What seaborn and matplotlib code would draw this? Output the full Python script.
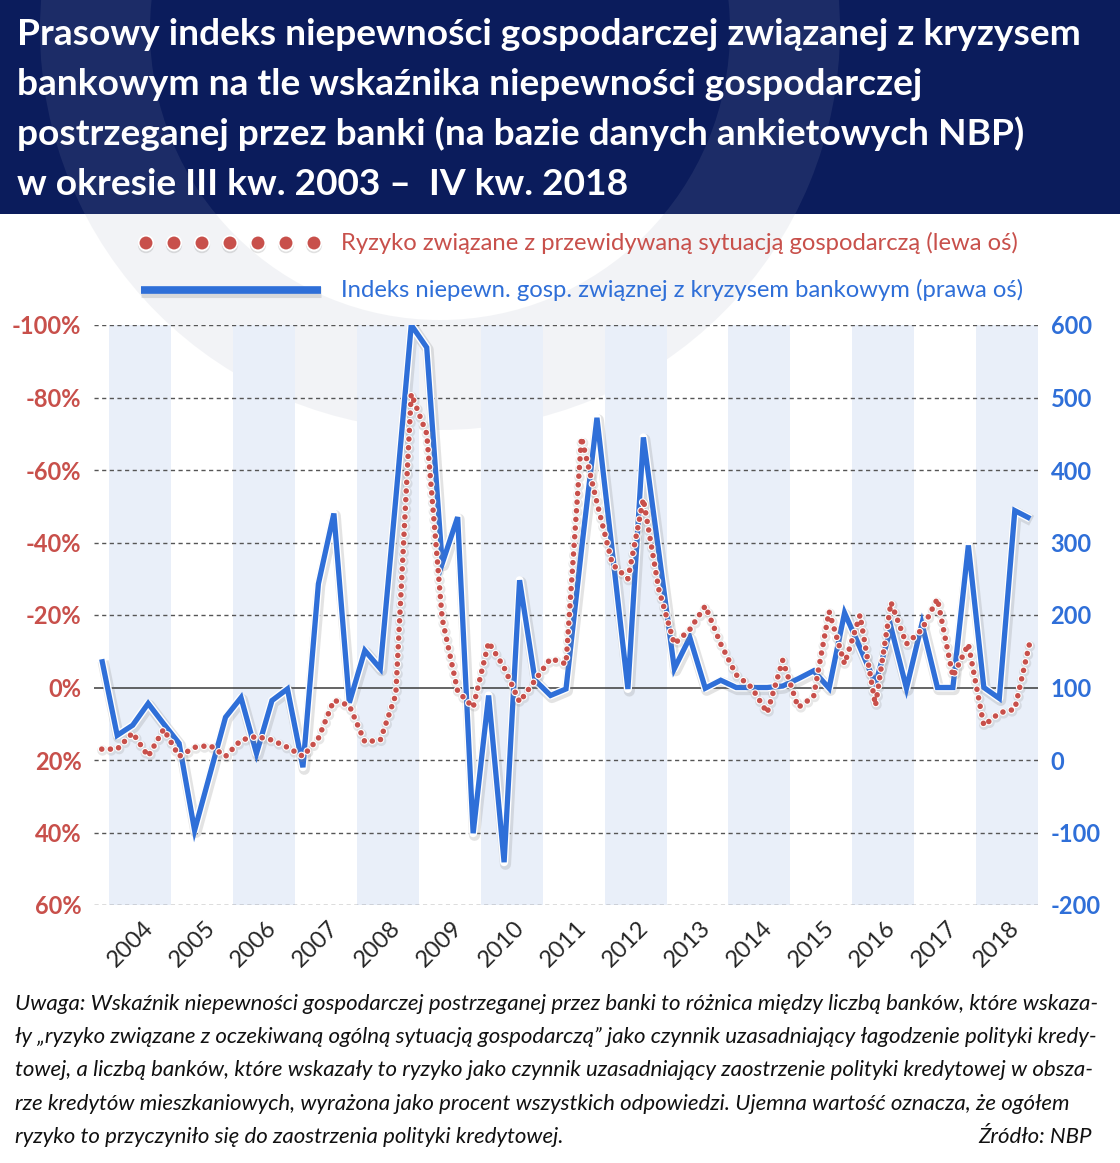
import numpy as np
import pandas as pd
import matplotlib.pyplot as plt
import matplotlib.patheffects as pe
from matplotlib.patches import Rectangle, Wedge
import seaborn as sns


# Quarterly data, IV kw. 2003 - IV kw. 2018 (61 quarters)
years = [2004, 2005, 2006, 2007, 2008, 2009, 2010, 2011,
         2012, 2013, 2014, 2015, 2016, 2017, 2018]

# left axis (%) - risk related to expected economic situation
risk = [17, 17, 12.5, 19, 11.5, 19, 16.5, 16, 19, 14.5,
        13.5, 14.5, 16.5, 19, 14, 3.5, 5, 15, 14.5, 2,
        -81, -70, -19, 1, 5.5, -12.5, -5.5, 4, -2, -8,
        -6.5, -69, -51, -34, -30, -52, -27, -12, -16, -22.5,
        -12, -3.5, 0, 7, -7.5, 5.5, 2.5, -21, -6.5, -20,
        5, -23.5, -12, -16, -24.5, -3, -12, 10.5, 7, 6,
        -13]

# right axis - press uncertainty index (banking crisis)
uncert = [139, 34, 48, 78, 50, 23, -97, -19, 59, 86,
          9, 82, 98, -10, 243, 340, 79, 151, 126, 360,
          600, 569, 271, 335, -101, 89, -141, 248, 110, 89,
          98, 290, 472, 286, 98, 445, 286, 126, 169, 99,
          110, 100, 100, 100, 102, 112, 123, 99, 203, 155,
          105, 183, 99, 188, 100, 100, 296, 100, 85, 344,
          333]

left_ticks = [-100, -80, -60, -40, -20, 0, 20, 40, 60]
right_ticks = [-200, -100, 0, 100, 200, 300, 400, 500, 600]

title_lines = [
    "Prasowy indeks niepewności gospodarczej związanej z kryzysem",
    "bankowym na tle wskaźnika niepewności gospodarczej",
    "postrzeganej przez banki (na bazie danych ankietowych NBP)",
    "w okresie III kw. 2003 –  IV kw. 2018",
]
note_lines = [
    "Uwaga: Wskaźnik niepewności gospodarczej postrzeganej przez banki to różnica między liczbą banków, które wskaza-",
    "ły „ryzyko związane z oczekiwaną ogólną sytuacją gospodarczą” jako czynnik uzasadniający łagodzenie polityki kredy-",
    "towej, a liczbą banków, które wskazały to ryzyko jako czynnik uzasadniający zaostrzenie polityki kredytowej w obsza-",
    "rze kredytów mieszkaniowych, wyrażona jako procent wszystkich odpowiedzi. Ujemna wartość oznacza, że ogółem",
    "ryzyko to przyczyniło się do zaostrzenia polityki kredytowej.",
]
label_red = "Ryzyko związane z przewidywaną sytuacją gospodarczą (lewa oś)"
label_blue = "Indeks niepewn. gosp. związnej z kryzysem bankowym (prawa oś)"

df = pd.DataFrame({"q": np.arange(len(uncert)), "risk": risk, "uncert": uncert})

NAVY = "#0b1c5c"
RED = "#c8504b"
BLUE = "#2f6fd8"
BAND = "#e9eff9"

sns.set_style("white")
plt.rcParams["font.family"] = ["Lato", "DejaVu Sans"]

W, H = 1120, 1163
fig = plt.figure(figsize=(W / 100, H / 100), dpi=100)

# background layer in pixel coordinates
bg = fig.add_axes([0, 0, 1, 1])
bg.set_xlim(0, W)
bg.set_ylim(H, 0)
bg.axis("off")
bg.set_zorder(-5)
bg.add_patch(Rectangle((0, 0), W, 214, color=NAVY, lw=0))
bg.add_patch(Wedge((440, 30), 400, 0, 360, width=110, facecolor="#9aa2b8",
                   alpha=0.12, lw=0))

# plot area
L, R, T, B = 94, 1038, 325, 905
ax = fig.add_axes([L / W, 1 - B / H, (R - L) / W, (B - T) / H])
ax2 = ax.twinx()
ax.set_zorder(ax2.get_zorder() + 1)
ax.patch.set_visible(False)

n = len(uncert)
ax.set_xlim(-0.5, n - 0.5)

# alternating year bands (even years shaded)
for k in range(0, len(years), 2):
    ax2.axvspan(0.5 + 4 * k, 4.5 + 4 * k, color=BAND, lw=0, zorder=0)

ax2.set_ylim(-200, 600)
for v in right_ticks:
    if v == 100:
        ax2.axhline(v, color="#3a3a3a", lw=1.1, zorder=1)
    else:
        ax2.axhline(v, color="#555555", lw=1.0, ls=(0, (3, 2.5)), zorder=1)

ax.set_ylim(60, -100)

# lines
sns.lineplot(data=df, x="q", y="uncert", ax=ax2, color=BLUE, lw=3.8,
             solid_joinstyle="miter", solid_capstyle="butt")
blue_line = ax2.lines[-1]
blue_line.set_zorder(3)
blue_line.set_path_effects([
    pe.SimpleLineShadow(offset=(1, -1.5), shadow_color="#777777", alpha=0.2,
                        linewidth=8, joinstyle="round"),
    pe.Stroke(linewidth=5.8, foreground="white", joinstyle="round"),
    pe.Normal(),
])

sns.lineplot(data=df, x="q", y="risk", ax=ax, color=RED, lw=4.0)
red_line = ax.lines[-1]
red_line.set_linestyle((0, (0.01, 1.55)))
red_line.set_dash_capstyle("round")
red_line.set_zorder(4)
red_line.set_path_effects([
    pe.SimpleLineShadow(offset=(0.5, -1), shadow_color="#888888", alpha=0.2, linewidth=7.5),
    pe.Stroke(linewidth=5.6, foreground="white"),
    pe.Normal(),
])

for a in (ax, ax2):
    for s in a.spines.values():
        s.set_visible(False)
    a.set_xlabel("")
    a.set_ylabel("")

# y ticks
ax.set_yticks(left_ticks)
ax.set_yticklabels([f"{v}%" for v in left_ticks], color=RED, fontsize=17, fontweight="bold")
ax.tick_params(axis="y", length=0, pad=9)
ax2.set_yticks(right_ticks)
ax2.set_yticklabels([str(v) for v in right_ticks], color=BLUE, fontsize=17, fontweight="bold")
ax2.tick_params(axis="y", length=0, pad=9)

# x ticks: marks at year boundaries, labels under each year
ax.set_xticks([0.5 + 4 * k for k in range(len(years) + 1)])
ax.set_xticklabels([])
ax.set_xticks([3.1 + 4 * k for k in range(len(years))], minor=True)
ax.set_xticklabels([str(y) for y in years], minor=True, fontsize=17)
ax.tick_params(axis="x", which="major", length=7, width=1.3, color="#444444", direction="out")
ax.tick_params(axis="x", which="minor", length=0, pad=14)
for t in ax.get_xticklabels(minor=True):
    t.set_rotation(45)
    t.set_ha("right")
    t.set_va("center")
    t.set_rotation_mode("anchor")

# title
title_texts = []
for i, line in enumerate(title_lines):
    title_texts.append(bg.text(17, 45 + 50 * i, line, color="white", fontsize=28,
                               fontweight="bold", va="baseline", ha="left"))

# legend
bg.plot(np.linspace(146, 314, 7), [243] * 7, ls="none", marker="o", ms=10.5,
        mfc=RED, mec="white", mew=1.2,
        path_effects=[pe.SimpleLineShadow(offset=(0, -1.5), shadow_color="#888888", alpha=0.25),
                      pe.Normal()])
bg.plot([141, 321], [290, 290], color=BLUE, lw=5.5, solid_capstyle="butt",
        path_effects=[pe.SimpleLineShadow(offset=(0, -1.5), shadow_color="#888888", alpha=0.25, linewidth=8),
                      pe.Normal()])
t_red = bg.text(341, 243, label_red, color=RED, fontsize=17, va="center", ha="left")
t_blue = bg.text(341, 290, label_blue, color=BLUE, fontsize=17, va="center", ha="left")

# footnote
note_texts = []
for i, line in enumerate(note_lines):
    note_texts.append(bg.text(15, 1010 + 33.2 * i, line, fontsize=15.5, style="italic",
                              color="#111111", va="baseline", ha="left"))
src = bg.text(1092, 1010 + 33.2 * 4, "Źródło: NBP", fontsize=15.5, style="italic",
              color="#111111", va="baseline", ha="right")


def fit_width(texts, ref, target):
    fig.canvas.draw()
    rend = fig.canvas.get_renderer()
    w = ref.get_window_extent(rend).width
    k = target / w
    for t in texts:
        t.set_fontsize(t.get_fontsize() * k)


fit_width(title_texts, title_texts[0], 1065)
fit_width([t_red], t_red, 677)
fit_width([t_blue], t_blue, 682)
fit_width(note_texts + [src], note_texts[0], 1083)

fig.savefig("out.png", dpi=100)
